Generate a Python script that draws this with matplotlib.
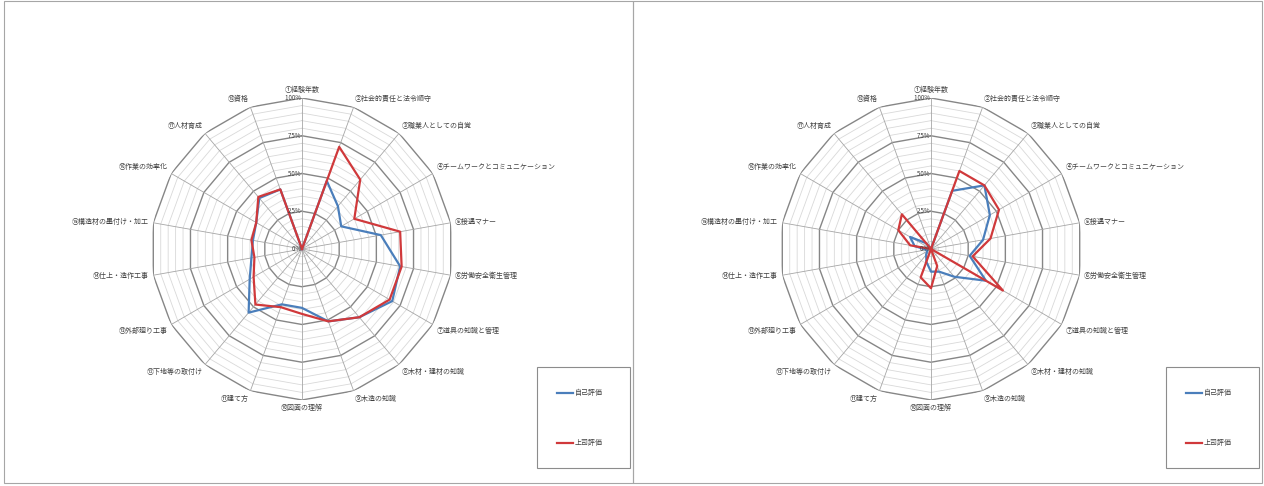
import numpy as np
import matplotlib
matplotlib.use('Agg')
import matplotlib.pyplot as plt
from matplotlib.patches import Rectangle

plt.rcParams['font.family'] = ['Noto Sans CJK JP', 'DejaVu Sans']

categories = ['①経験年数', '②社会的責任と法令順守', '③職業人としての自覚',
              '④チームワークとコミュニケーション', '⑤接遇マナー', '⑥労働安全衛生管理',
              '⑦道具の知識と管理', '⑧木材・建材の知識', '⑨木造の知識', '⑩図面の理解',
              '⑪建て方', '⑫下地等の取付け', '⑬外部廻り工事', '⑭仕上・造作工事',
              '⑮構造材の墨付け・加工', '⑯作業の効率化', '⑰人材育成', '⑱資格']

# left chart (%)
left_self = [0, 48, 37, 30, 53, 66, 69, 59, 51, 39, 39, 55, 40, 34, 33, 35, 44, 42]
left_boss = [0, 72, 60, 40, 66, 67, 67, 59, 51, 43, 41, 48, 37, 32, 34, 35, 45, 42]
# right chart (%)
right_self = [0, 41, 55, 45, 35, 26, 42, 24, 16, 15, 9, 5, 3, 3, 11, 16, 5, 0]
right_boss = [0, 55, 55, 52, 40, 28, 55, 0, 12, 26, 20, 0, 0, 0, 14, 25, 30, 0]

ticks = [0, 25, 50, 75, 100]
tick_labels = ['0%', '25%', '50%', '75%', '100%']
series_names = ['自己評価', '上司評価']
colors = ['#4a7ebb', '#d0393b']

W, H = 1264, 486
fig = plt.figure(figsize=(W / 100, H / 100), dpi=100)

# panel borders
for x0 in [4, 633]:
    fig.patches.append(Rectangle((x0 / W, 3 / H), 629 / W, 482 / H, transform=fig.transFigure,
                                 fill=False, edgecolor='#a6a6a6', linewidth=0.8))

n = len(categories)
theta = np.arange(n) * 2 * np.pi / n
theta_c = np.append(theta, theta[0])
R = 151


def radar(cx, cy, self_vals, boss_vals, lx):
    ax = fig.add_axes([(cx - R) / W, (H - cy - R) / H, 2 * R / W, 2 * R / H], projection='polar')
    ax.set_theta_zero_location('N')
    ax.set_theta_direction(-1)
    ax.set_ylim(0, 100)
    ax.axis('off')

    for r in range(5, 101, 5):
        major = r % 25 == 0
        ax.plot(theta_c, [r] * (n + 1), color='#868686' if major else '#d9d9d9',
                lw=1.0 if major else 0.6, zorder=1 if not major else 2)
    for t in theta:
        ax.plot([t, t], [0, 100], color='#a6a6a6', lw=0.6, zorder=2)

    for t, lab in zip(ticks, tick_labels):
        ax.text(0, t, lab + ' ', ha='right', va='center', fontsize=4.5, color='#404040', zorder=5)

    for t, lab in zip(theta, categories):
        s, c = np.sin(t), np.cos(t)
        ha = 'left' if s > 0.1 else ('right' if s < -0.1 else 'center')
        va = 'bottom' if c > 0.3 else ('top' if c < -0.3 else 'center')
        ax.annotate(lab, xy=(t, 100), xytext=(3 * s, 3 * c), textcoords='offset points',
                    ha=ha, va=va, fontsize=5, color='#404040', annotation_clip=False)

    for vals, col in zip([self_vals, boss_vals], colors):
        ax.plot(theta_c, list(vals) + [vals[0]], color=col, lw=1.6, zorder=4)

    # legend box
    fig.patches.append(Rectangle((lx / W, (H - 468) / H), 93 / W, 101 / H, transform=fig.transFigure,
                                 fill=False, edgecolor='#8c8c8c', linewidth=0.8))
    for k, (name, col) in enumerate(zip(series_names, colors)):
        y = (H - (393 + 50 * k)) / H
        fig.add_artist(plt.Line2D([(lx + 20) / W, (lx + 36) / W], [y, y], color=col, lw=1.6))
        fig.text((lx + 38) / W, y, name, ha='left', va='center', fontsize=5, color='#404040')


radar(302, 249, left_self, left_boss, 537)
radar(931, 249, right_self, right_boss, 1166)

fig.savefig('out.png', dpi=100)
